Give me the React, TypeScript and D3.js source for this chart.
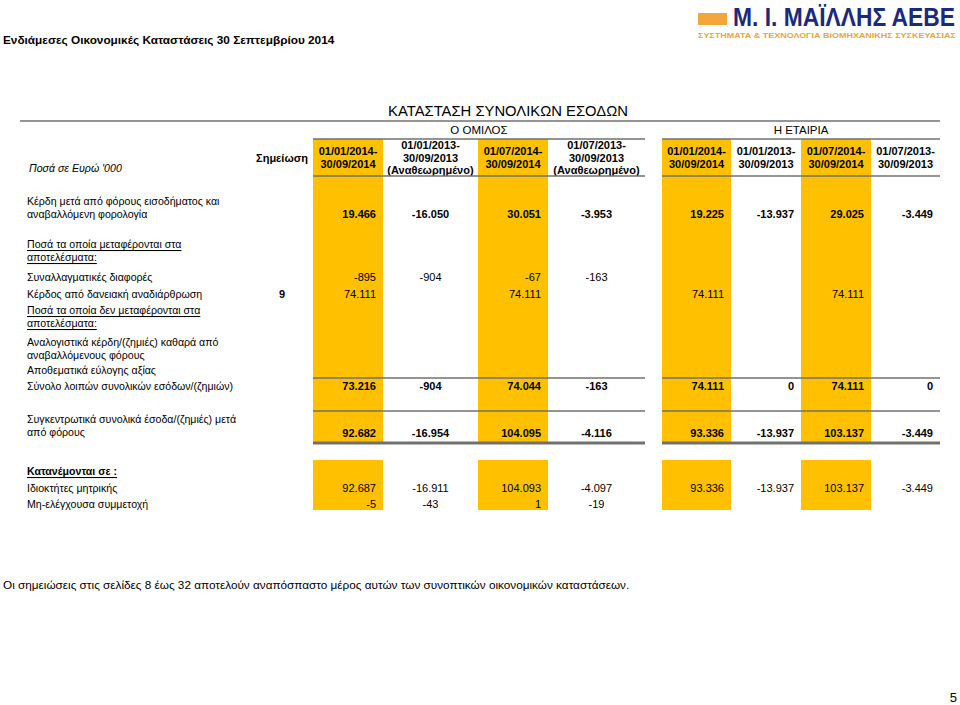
import React, { useLayoutEffect, useRef, useState } from "react";
import * as d3 from "d3";

const FONT = "'Liberation Sans', Arial, sans-serif";
const YELLOW = "#ffc000";
const RULE = "#707070";

// columns: group (Ο ΟΜΙΛΟΣ) then company (Η ΕΤΑΙΡΙΑ)
const colKeys = ["g1", "g2", "g3", "g4", "c1", "c2", "c3", "c4"];
const colHeaders = [
  ["01/01/2014-", "30/09/2014"],
  ["01/01/2013-", "30/09/2013", "(Αναθεωρημένο)"],
  ["01/07/2014-", "30/09/2014"],
  ["01/07/2013-", "30/09/2013", "(Αναθεωρημένο)"],
  ["01/01/2014-", "30/09/2014"],
  ["01/01/2013-", "30/09/2013"],
  ["01/07/2014-", "30/09/2014"],
  ["01/07/2013-", "30/09/2013"],
];
const highlighted = ["g1", "g3", "c1", "c3"];

// values per row, one per column
const profitAfterTax = ["19.466", "-16.050", "30.051", "-3.953", "19.225", "-13.937", "29.025", "-3.449"];
const fxDifferences = ["-895", "-904", "-67", "-163", "", "", "", ""];
const loanRestructuring = ["74.111", "", "74.111", "", "74.111", "", "74.111", ""];
const actuarial = ["", "", "", "", "", "", "", ""];
const fairValue = ["", "", "", "", "", "", "", ""];
const otherComprehensive = ["73.216", "-904", "74.044", "-163", "74.111", "0", "74.111", "0"];
const totalComprehensive = ["92.682", "-16.954", "104.095", "-4.116", "93.336", "-13.937", "103.137", "-3.449"];
const ownersParent = ["92.687", "-16.911", "104.093", "-4.097", "93.336", "-13.937", "103.137", "-3.449"];
const nonControlling = ["-5", "-43", "1", "-19", "", "", "", ""];

const rows = [
  { lines: ["Κέρδη μετά από φόρους εισοδήματος και", "αναβαλλόμενη φορολογία"], y: 201, vy: 214, vals: profitAfterTax, bold: true },
  { lines: ["Ποσά τα οποία μεταφέρονται στα", "αποτελέσματα:"], y: 244, underline: true },
  { lines: ["Συναλλαγματικές διαφορές"], y: 277, vy: 277, vals: fxDifferences },
  { lines: ["Κέρδος από δανειακή αναδιάρθρωση"], y: 294, vy: 294, vals: loanRestructuring, note: "9" },
  { lines: ["Ποσά τα οποία δεν μεταφέρονται στα", "αποτελέσματα:"], y: 310, underline: true },
  { lines: ["Αναλογιστικά κέρδη/(ζημιές) καθαρά από", "αναβαλλόμενους φόρους"], y: 342, vy: 342, vals: actuarial },
  { lines: ["Αποθεματικά εύλογης αξίας"], y: 370, vy: 370, vals: fairValue },
  { lines: ["Σύνολο λοιπών συνολικών εσόδων/(ζημιών)"], y: 386, vy: 386, vals: otherComprehensive, bold: true },
  { lines: ["Συγκεντρωτικά συνολικά έσοδα/(ζημιές) μετά", "από φόρους"], y: 419, vy: 433, vals: totalComprehensive, bold: true },
  { lines: ["Κατανέμονται σε :"], y: 471, underline: true, boldLabel: true },
  { lines: ["Ιδιοκτήτες μητρικής"], y: 488, vy: 488, vals: ownersParent },
  { lines: ["Μη-ελέγχουσα συμμετοχή"], y: 504, vy: 504, vals: nonControlling },
];

const colX = d3.scaleOrdinal<string, number>().domain(colKeys).range([313, 383, 478, 548, 662, 731, 801, 871]);
const colW = d3.scaleOrdinal<string, number>().domain(colKeys).range([70, 95, 70, 97, 69, 70, 70, 69]);
const colAlign = d3.scaleOrdinal<string, string>().domain(colKeys).range(["end", "middle", "end", "middle", "end", "end", "end", "end"]);

function valueX(k: string) {
  const a = colAlign(k);
  if (a === "middle") return colX(k) + colW(k) / 2;
  return colX(k) + colW(k) - 7;
}

export default function App() {
  const nameRef = useRef<SVGTextElement>(null);
  const subRef = useRef<SVGTextElement>(null);
  const [sx, setSx] = useState({ name: 0.7, sub: 1 });

  // squeeze the logo texts horizontally to the widths of the original logo
  useLayoutEffect(() => {
    const n = nameRef.current?.getComputedTextLength() || 1;
    const s = subRef.current?.getComputedTextLength() || 1;
    setSx({ name: 222 / n, sub: 258 / s });
  }, []);

  const groupL = colX("g1"), groupR = colX("g4") + colW("g4");
  const compL = colX("c1"), compR = colX("c4") + colW("c4");
  const hline = (y: number, w = 1.5) => (
    <g>
      <line x1={groupL} x2={groupR} y1={y} y2={y} stroke={RULE} strokeWidth={w} />
      <line x1={compL} x2={compR} y1={y} y2={y} stroke={RULE} strokeWidth={w} />
    </g>
  );
  return (
    <svg width={960} height={705} style={{ position: "absolute", left: 0, top: 0, background: "#fff" }} fontFamily={FONT}>
      {/* yellow bands */}
      {highlighted.map((k) => (
        <g key={k}>
          <rect x={colX(k)} y={139} width={colW(k)} height={304} fill={YELLOW} />
          <rect x={colX(k)} y={460} width={colW(k)} height={50} fill={YELLOW} />
        </g>
      ))}

      {/* page title */}
      <text x={3} y={40} dominantBaseline="central" fontSize={11.8} fontWeight="bold">
        Ενδιάμεσες Οικονομικές Καταστάσεις 30 Σεπτεμβρίου 2014
      </text>

      {/* logo */}
      <rect x={698} y={13} width={29} height={12} fill="#f3a63c" />
      <text ref={nameRef} transform={`translate(733,25.5) scale(${sx.name},1)`} fontSize={26} fontWeight="bold" fill="#1c2a7d">
        Μ. Ι. ΜΑΪΛΛΗΣ ΑΕΒΕ
      </text>
      <text ref={subRef} transform={`translate(698,37.5) scale(${sx.sub},1)`} fontSize={7} fontWeight="bold" fill="#e9a43c">
        ΣΥΣΤΗΜΑΤΑ &amp; ΤΕΧΝΟΛΟΓΙΑ ΒΙΟΜΗΧΑΝΙΚΗΣ ΣΥΣΚΕΥΑΣΙΑΣ
      </text>

      {/* statement heading */}
      <text x={508} y={111} dominantBaseline="central" textAnchor="middle" fontSize={14.8}>
        ΚΑΤΑΣΤΑΣΗ ΣΥΝΟΛΙΚΩΝ ΕΣΟΔΩΝ
      </text>
      <line x1={20} x2={940} y1={121} y2={121} stroke={RULE} strokeWidth={1.5} />
      <text x={(groupL + groupR) / 2} y={130} dominantBaseline="central" textAnchor="middle" fontSize={11.5}>Ο ΟΜΙΛΟΣ</text>
      <text x={(compL + compR) / 2} y={130} dominantBaseline="central" textAnchor="middle" fontSize={11.5}>Η ΕΤΑΙΡΙΑ</text>
      {hline(139)}

      <text x={29} y={168} dominantBaseline="central" fontSize={10.6} fontStyle="italic">Ποσά σε Ευρώ '000</text>
      <text x={282} y={158} dominantBaseline="central" textAnchor="middle" fontSize={11} fontWeight="bold">Σημείωση</text>

      {colKeys.map((k, i) => {
        const lines = colHeaders[i];
        const y0 = lines.length === 3 ? 145 : 151;
        return lines.map((t, j) => (
          <text key={k + j} x={colX(k) + colW(k) / 2} y={y0 + j * 12.5} dominantBaseline="central" textAnchor="middle" fontSize={11} fontWeight="bold">
            {t}
          </text>
        ));
      })}
      {hline(176)}

      {/* body */}
      {rows.map((r, i) => (
        <g key={i}>
          {r.lines.map((t, j) => (
            <text key={j} x={27} y={r.y + j * 13} dominantBaseline="central" fontSize={10.6} textDecoration={r.underline ? "underline" : undefined} fontWeight={r.boldLabel ? "bold" : "normal"}>
              {t}
            </text>
          ))}
          {r.note && (
            <text x={282} y={r.vy} dominantBaseline="central" textAnchor="middle" fontSize={11} fontWeight="bold">{r.note}</text>
          )}
          {r.vals && colKeys.map((k, c) => r.vals![c] ? (
            <text key={k} x={valueX(k)} y={r.vy} dominantBaseline="central" textAnchor={colAlign(k)} fontSize={11} fontWeight={r.bold ? "bold" : "normal"}>
              {r.vals![c]}
            </text>
          ) : null)}
        </g>
      ))}
      {hline(378)}
      {hline(411)}
      {hline(443, 3)}

      <text x={3} y={584} dominantBaseline="central" fontSize={11.75}>
        Οι σημειώσεις στις σελίδες 8 έως 32 αποτελούν αναπόσπαστο μέρος αυτών των συνοπτικών οικονομικών καταστάσεων.
      </text>
      <text x={957} y={697} dominantBaseline="central" textAnchor="end" fontSize={13}>5</text>
    </svg>
  );
}
